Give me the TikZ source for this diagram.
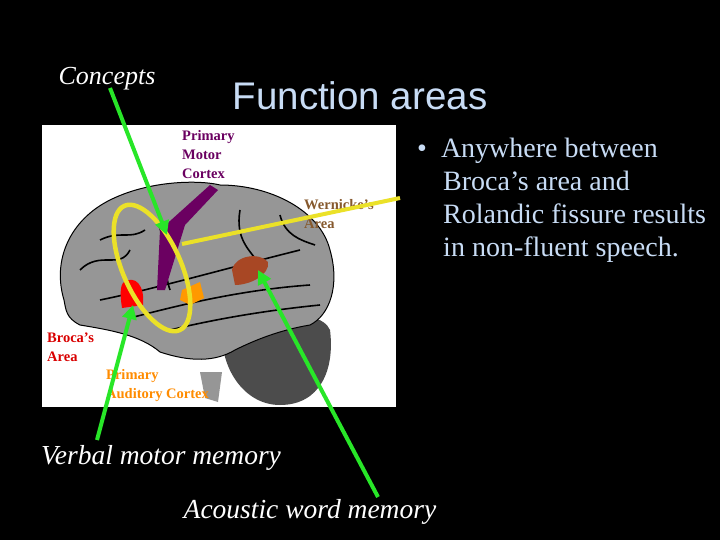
\documentclass[tikz,border=0pt]{standalone}
\usepackage{fontspec}
\setmainfont{Liberation Serif}
\newfontfamily\sans{Liberation Sans}
\usetikzlibrary{arrows.meta}
\definecolor{ltblue}{RGB}{200,220,245}
\definecolor{brgray}{RGB}{150,150,150}
\definecolor{gline}{RGB}{40,230,40}
\definecolor{yline}{RGB}{235,225,40}
\begin{document}
\begin{tikzpicture}[x=1pt,y=-1pt,
  lbl/.style={font=\fontsize{14.5}{19}\selectfont\bfseries,anchor=north west,align=left,inner sep=0pt},
  garrow/.style={draw=gline,line width=4pt,-{Triangle[length=14pt,width=14pt]}},
  sulc/.style={line width=1.6pt,black}]
\fill[black] (0,0) rectangle (720,540);
\useasboundingbox (0,0) rectangle (720,540);
\fill[white] (42,125) rectangle (396,407);
% cerebellum
\fill[black!70] (222,335) .. controls (240,312) and (320,305) .. (330,330) .. controls (335,370) and (320,405) .. (280,405) .. controls (245,405) and (222,370) .. (222,335);
% stem
\fill[brgray] (200,372) -- (222,372) -- (218,402) -- (205,398) -- cycle;
% brain
\fill[brgray,draw=black,line width=1pt] (64,300) .. controls (52,260) and (70,220) .. (110,200) .. controls (150,180) and (200,180) .. (220,185) .. controls (270,185) and (320,210) .. (330,250) .. controls (340,285) and (330,315) .. (310,325) .. controls (280,330) and (255,340) .. (235,350) .. controls (215,362) and (190,362) .. (160,352) .. controls (140,335) and (110,330) .. (80,325) .. controls (66,318) and (66,310) .. (64,300) -- cycle;
% sulci
\draw[sulc] (100,300) .. controls (150,290) and (220,270) .. (300,250);
\draw[sulc] (130,318) .. controls (180,305) and (240,290) .. (310,285);
\draw[sulc] (170,330) .. controls (220,318) and (270,310) .. (320,305);
\draw[sulc] (150,215) .. controls (170,230) and (160,260) .. (170,290);
\draw[sulc] (240,210) .. controls (235,240) and (250,250) .. (260,265);
\draw[sulc] (280,215) .. controls (285,235) and (300,240) .. (315,245);
\draw[sulc] (80,270) .. controls (100,250) and (120,270) .. (130,250);
\draw[sulc] (100,240) .. controls (120,230) and (130,240) .. (145,230);
% areas
\fill[purple!70!blue!80!black] (210,185) -- (218,190) -- (185,225) -- (165,290) -- (157,290) -- (160,230) -- cycle;
\fill[red] (124,282) .. controls (135,275) and (145,285) .. (143,305) -- (122,308) .. controls (120,295) and (120,285) .. (124,282);
\fill[orange!80!yellow] (182,290) -- (200,282) -- (204,298) -- (190,305) -- (180,300) -- cycle;
\fill[brown!70!red!80!black] (232,270) .. controls (235,255) and (260,252) .. (268,262) .. controls (270,275) and (250,285) .. (235,285) -- cycle;
% labels
\node[lbl,text=purple!70!blue!80!black] (pm) at (182,130) {Primary\\Motor\\Cortex};
\node[lbl,text=brown!70!black] (wa) at (304,199) {Wernicke's\\Area};
\node[lbl,text=red!85!black] (ba) at (47,333) {Broca's\\Area};
\node[lbl,text=orange!90!yellow] (pa) at (106,369) {Primary\\Auditory Cortex};
% ellipse and yellow line
\draw[yline,line width=4.5pt,rotate around={24:(152,268)}] (152,268) ellipse (29 and 68);
\coordinate (ystart) at (400,198);
\coordinate (yend) at (182,244);
\draw[yline,line width=4pt] (ystart) -- (yend);
% texts
\node[text=white,font=\fontsize{26}{28}\selectfont\itshape] (concepts) at (107,79) {Concepts};
\node[text=ltblue,font=\sans\fontsize{38.5}{42}\selectfont] (title) at (360,96) {Function areas};
\node[text=ltblue,font=\fontsize{28}{33}\selectfont,anchor=north west,align=left,inner sep=0pt] (bul) at (417,138) {•\ \ Anywhere between\\\hspace*{0.93em}Broca’s area and\\\hspace*{0.93em}Rolandic fissure results\\\hspace*{0.93em}in non-fluent speech.};
\node[text=white,font=\fontsize{27.5}{30}\selectfont\itshape] (vmm) at (161,458) {Verbal motor memory};
\node[text=white,font=\fontsize{27.5}{30}\selectfont\itshape] (awm) at (310,512) {Acoustic word memory};
% green arrows
\coordinate (c1) at (110,88);
\coordinate (c1e) at (167,235);
\coordinate (v1) at (97,440);
\coordinate (v1e) at (133,305);
\coordinate (a1) at (378,497);
\coordinate (a1e) at (258,270);
\draw[garrow] (c1) -- (c1e);
\draw[garrow] (v1) -- (v1e);
\draw[garrow] (a1) -- (a1e);
\end{tikzpicture}
\end{document}
